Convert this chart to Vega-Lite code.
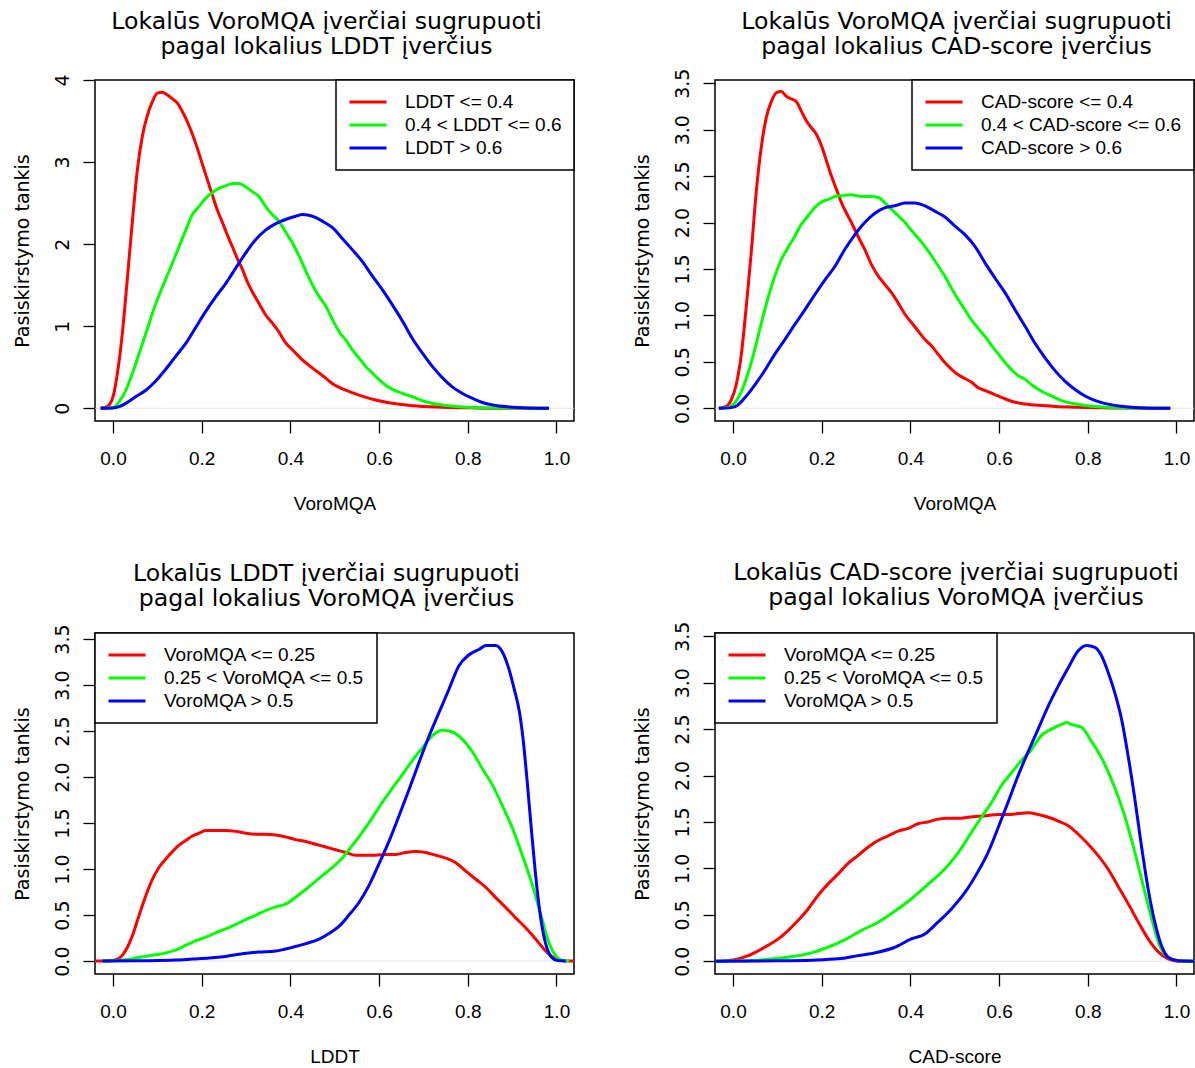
{
 "$schema": "https://vega.github.io/schema/vega-lite/v6.json",
 "background": "white",
 "padding": {"left": 12, "top": 8, "right": 3, "bottom": 3},
 "columns": 2,
 "spacing": {"row": 212, "column": 141},
 "bounds": "flush",
 "resolve": {"scale": {"x": "independent", "y": "independent", "color": "independent"}, "legend": {"color": "independent"}},
 "datasets": {
  "p1": [
   {"g":"LDDT <= 0.4","x":-0.028,"y":0},{"g":"LDDT <= 0.4","x":-0.013,"y":0.02},{"g":"LDDT <= 0.4","x":0,"y":0.14},{"g":"LDDT <= 0.4","x":0.01,"y":0.43},{"g":"LDDT <= 0.4","x":0.021,"y":0.91},{"g":"LDDT <= 0.4","x":0.032,"y":1.56},{"g":"LDDT <= 0.4","x":0.044,"y":2.3},{"g":"LDDT <= 0.4","x":0.055,"y":2.91},{"g":"LDDT <= 0.4","x":0.066,"y":3.31},{"g":"LDDT <= 0.4","x":0.077,"y":3.56},{"g":"LDDT <= 0.4","x":0.089,"y":3.74},{"g":"LDDT <= 0.4","x":0.1,"y":3.84},{"g":"LDDT <= 0.4","x":0.111,"y":3.85},{"g":"LDDT <= 0.4","x":0.122,"y":3.82},{"g":"LDDT <= 0.4","x":0.134,"y":3.77},{"g":"LDDT <= 0.4","x":0.145,"y":3.72},{"g":"LDDT <= 0.4","x":0.156,"y":3.62},{"g":"LDDT <= 0.4","x":0.167,"y":3.5},{"g":"LDDT <= 0.4","x":0.179,"y":3.34},{"g":"LDDT <= 0.4","x":0.19,"y":3.17},{"g":"LDDT <= 0.4","x":0.2,"y":3.0},{"g":"LDDT <= 0.4","x":0.213,"y":2.78},{"g":"LDDT <= 0.4","x":0.224,"y":2.6},{"g":"LDDT <= 0.4","x":0.235,"y":2.42},{"g":"LDDT <= 0.4","x":0.247,"y":2.26},{"g":"LDDT <= 0.4","x":0.258,"y":2.11},{"g":"LDDT <= 0.4","x":0.269,"y":1.97},{"g":"LDDT <= 0.4","x":0.28,"y":1.83},{"g":"LDDT <= 0.4","x":0.292,"y":1.69},{"g":"LDDT <= 0.4","x":0.303,"y":1.54},{"g":"LDDT <= 0.4","x":0.314,"y":1.42},{"g":"LDDT <= 0.4","x":0.329,"y":1.28},{"g":"LDDT <= 0.4","x":0.344,"y":1.14},{"g":"LDDT <= 0.4","x":0.359,"y":1.04},{"g":"LDDT <= 0.4","x":0.374,"y":0.93},{"g":"LDDT <= 0.4","x":0.389,"y":0.8},{"g":"LDDT <= 0.4","x":0.405,"y":0.71},{"g":"LDDT <= 0.4","x":0.427,"y":0.59},{"g":"LDDT <= 0.4","x":0.45,"y":0.49},{"g":"LDDT <= 0.4","x":0.472,"y":0.4},{"g":"LDDT <= 0.4","x":0.495,"y":0.3},{"g":"LDDT <= 0.4","x":0.525,"y":0.22},{"g":"LDDT <= 0.4","x":0.555,"y":0.16},{"g":"LDDT <= 0.4","x":0.592,"y":0.1},{"g":"LDDT <= 0.4","x":0.63,"y":0.06},{"g":"LDDT <= 0.4","x":0.675,"y":0.03},{"g":"LDDT <= 0.4","x":0.743,"y":0.012},{"g":"LDDT <= 0.4","x":0.818,"y":0.004},{"g":"LDDT <= 0.4","x":0.893,"y":0},{"g":"LDDT <= 0.4","x":0.983,"y":0},
   {"g":"0.4 < LDDT <= 0.6","x":-0.028,"y":0},{"g":"0.4 < LDDT <= 0.6","x":0,"y":0.01},{"g":"0.4 < LDDT <= 0.6","x":0.014,"y":0.08},{"g":"0.4 < LDDT <= 0.6","x":0.029,"y":0.22},{"g":"0.4 < LDDT <= 0.6","x":0.044,"y":0.43},{"g":"0.4 < LDDT <= 0.6","x":0.059,"y":0.67},{"g":"0.4 < LDDT <= 0.6","x":0.074,"y":0.91},{"g":"0.4 < LDDT <= 0.6","x":0.089,"y":1.16},{"g":"0.4 < LDDT <= 0.6","x":0.104,"y":1.38},{"g":"0.4 < LDDT <= 0.6","x":0.118,"y":1.56},{"g":"0.4 < LDDT <= 0.6","x":0.134,"y":1.77},{"g":"0.4 < LDDT <= 0.6","x":0.149,"y":1.97},{"g":"0.4 < LDDT <= 0.6","x":0.164,"y":2.17},{"g":"0.4 < LDDT <= 0.6","x":0.179,"y":2.36},{"g":"0.4 < LDDT <= 0.6","x":0.194,"y":2.46},{"g":"0.4 < LDDT <= 0.6","x":0.209,"y":2.56},{"g":"0.4 < LDDT <= 0.6","x":0.224,"y":2.63},{"g":"0.4 < LDDT <= 0.6","x":0.239,"y":2.68},{"g":"0.4 < LDDT <= 0.6","x":0.254,"y":2.71},{"g":"0.4 < LDDT <= 0.6","x":0.269,"y":2.74},{"g":"0.4 < LDDT <= 0.6","x":0.284,"y":2.74},{"g":"0.4 < LDDT <= 0.6","x":0.299,"y":2.7},{"g":"0.4 < LDDT <= 0.6","x":0.314,"y":2.64},{"g":"0.4 < LDDT <= 0.6","x":0.329,"y":2.58},{"g":"0.4 < LDDT <= 0.6","x":0.344,"y":2.46},{"g":"0.4 < LDDT <= 0.6","x":0.359,"y":2.36},{"g":"0.4 < LDDT <= 0.6","x":0.374,"y":2.28},{"g":"0.4 < LDDT <= 0.6","x":0.389,"y":2.15},{"g":"0.4 < LDDT <= 0.6","x":0.405,"y":2.01},{"g":"0.4 < LDDT <= 0.6","x":0.42,"y":1.85},{"g":"0.4 < LDDT <= 0.6","x":0.435,"y":1.67},{"g":"0.4 < LDDT <= 0.6","x":0.45,"y":1.5},{"g":"0.4 < LDDT <= 0.6","x":0.465,"y":1.36},{"g":"0.4 < LDDT <= 0.6","x":0.48,"y":1.24},{"g":"0.4 < LDDT <= 0.6","x":0.495,"y":1.08},{"g":"0.4 < LDDT <= 0.6","x":0.51,"y":0.93},{"g":"0.4 < LDDT <= 0.6","x":0.525,"y":0.83},{"g":"0.4 < LDDT <= 0.6","x":0.54,"y":0.71},{"g":"0.4 < LDDT <= 0.6","x":0.555,"y":0.61},{"g":"0.4 < LDDT <= 0.6","x":0.57,"y":0.51},{"g":"0.4 < LDDT <= 0.6","x":0.585,"y":0.43},{"g":"0.4 < LDDT <= 0.6","x":0.6,"y":0.35},{"g":"0.4 < LDDT <= 0.6","x":0.615,"y":0.28},{"g":"0.4 < LDDT <= 0.6","x":0.63,"y":0.23},{"g":"0.4 < LDDT <= 0.6","x":0.653,"y":0.18},{"g":"0.4 < LDDT <= 0.6","x":0.675,"y":0.14},{"g":"0.4 < LDDT <= 0.6","x":0.705,"y":0.08},{"g":"0.4 < LDDT <= 0.6","x":0.743,"y":0.04},{"g":"0.4 < LDDT <= 0.6","x":0.78,"y":0.02},{"g":"0.4 < LDDT <= 0.6","x":0.856,"y":0.004},{"g":"0.4 < LDDT <= 0.6","x":0.983,"y":0},
   {"g":"LDDT > 0.6","x":-0.028,"y":0},{"g":"LDDT > 0.6","x":0,"y":0.004},{"g":"LDDT > 0.6","x":0.014,"y":0.02},{"g":"LDDT > 0.6","x":0.029,"y":0.06},{"g":"LDDT > 0.6","x":0.051,"y":0.14},{"g":"LDDT > 0.6","x":0.074,"y":0.22},{"g":"LDDT > 0.6","x":0.096,"y":0.33},{"g":"LDDT > 0.6","x":0.118,"y":0.47},{"g":"LDDT > 0.6","x":0.141,"y":0.63},{"g":"LDDT > 0.6","x":0.164,"y":0.79},{"g":"LDDT > 0.6","x":0.186,"y":0.98},{"g":"LDDT > 0.6","x":0.209,"y":1.18},{"g":"LDDT > 0.6","x":0.232,"y":1.36},{"g":"LDDT > 0.6","x":0.254,"y":1.52},{"g":"LDDT > 0.6","x":0.277,"y":1.71},{"g":"LDDT > 0.6","x":0.299,"y":1.89},{"g":"LDDT > 0.6","x":0.321,"y":2.05},{"g":"LDDT > 0.6","x":0.344,"y":2.17},{"g":"LDDT > 0.6","x":0.367,"y":2.25},{"g":"LDDT > 0.6","x":0.389,"y":2.3},{"g":"LDDT > 0.6","x":0.412,"y":2.34},{"g":"LDDT > 0.6","x":0.427,"y":2.36},{"g":"LDDT > 0.6","x":0.45,"y":2.34},{"g":"LDDT > 0.6","x":0.472,"y":2.28},{"g":"LDDT > 0.6","x":0.495,"y":2.2},{"g":"LDDT > 0.6","x":0.517,"y":2.07},{"g":"LDDT > 0.6","x":0.54,"y":1.93},{"g":"LDDT > 0.6","x":0.562,"y":1.79},{"g":"LDDT > 0.6","x":0.585,"y":1.61},{"g":"LDDT > 0.6","x":0.608,"y":1.44},{"g":"LDDT > 0.6","x":0.63,"y":1.26},{"g":"LDDT > 0.6","x":0.653,"y":1.06},{"g":"LDDT > 0.6","x":0.675,"y":0.85},{"g":"LDDT > 0.6","x":0.698,"y":0.67},{"g":"LDDT > 0.6","x":0.72,"y":0.51},{"g":"LDDT > 0.6","x":0.743,"y":0.37},{"g":"LDDT > 0.6","x":0.765,"y":0.26},{"g":"LDDT > 0.6","x":0.788,"y":0.18},{"g":"LDDT > 0.6","x":0.811,"y":0.12},{"g":"LDDT > 0.6","x":0.833,"y":0.07},{"g":"LDDT > 0.6","x":0.856,"y":0.04},{"g":"LDDT > 0.6","x":0.893,"y":0.016},{"g":"LDDT > 0.6","x":0.932,"y":0.004},{"g":"LDDT > 0.6","x":0.983,"y":0}
  ],
  "p2": [
   {"g":"CAD-score <= 0.4","x":-0.032,"y":0},{"g":"CAD-score <= 0.4","x":-0.015,"y":0.02},{"g":"CAD-score <= 0.4","x":-0.004,"y":0.09},{"g":"CAD-score <= 0.4","x":0.008,"y":0.27},{"g":"CAD-score <= 0.4","x":0.019,"y":0.59},{"g":"CAD-score <= 0.4","x":0.03,"y":1.1},{"g":"CAD-score <= 0.4","x":0.041,"y":1.67},{"g":"CAD-score <= 0.4","x":0.053,"y":2.36},{"g":"CAD-score <= 0.4","x":0.064,"y":2.82},{"g":"CAD-score <= 0.4","x":0.075,"y":3.13},{"g":"CAD-score <= 0.4","x":0.087,"y":3.31},{"g":"CAD-score <= 0.4","x":0.098,"y":3.4},{"g":"CAD-score <= 0.4","x":0.109,"y":3.41},{"g":"CAD-score <= 0.4","x":0.12,"y":3.36},{"g":"CAD-score <= 0.4","x":0.132,"y":3.33},{"g":"CAD-score <= 0.4","x":0.143,"y":3.3},{"g":"CAD-score <= 0.4","x":0.154,"y":3.2},{"g":"CAD-score <= 0.4","x":0.166,"y":3.09},{"g":"CAD-score <= 0.4","x":0.177,"y":3.02},{"g":"CAD-score <= 0.4","x":0.188,"y":2.95},{"g":"CAD-score <= 0.4","x":0.2,"y":2.82},{"g":"CAD-score <= 0.4","x":0.211,"y":2.66},{"g":"CAD-score <= 0.4","x":0.222,"y":2.5},{"g":"CAD-score <= 0.4","x":0.233,"y":2.36},{"g":"CAD-score <= 0.4","x":0.245,"y":2.21},{"g":"CAD-score <= 0.4","x":0.256,"y":2.1},{"g":"CAD-score <= 0.4","x":0.267,"y":2.0},{"g":"CAD-score <= 0.4","x":0.282,"y":1.85},{"g":"CAD-score <= 0.4","x":0.297,"y":1.71},{"g":"CAD-score <= 0.4","x":0.312,"y":1.55},{"g":"CAD-score <= 0.4","x":0.328,"y":1.42},{"g":"CAD-score <= 0.4","x":0.343,"y":1.33},{"g":"CAD-score <= 0.4","x":0.358,"y":1.24},{"g":"CAD-score <= 0.4","x":0.373,"y":1.13},{"g":"CAD-score <= 0.4","x":0.388,"y":1.01},{"g":"CAD-score <= 0.4","x":0.403,"y":0.92},{"g":"CAD-score <= 0.4","x":0.418,"y":0.83},{"g":"CAD-score <= 0.4","x":0.433,"y":0.74},{"g":"CAD-score <= 0.4","x":0.448,"y":0.67},{"g":"CAD-score <= 0.4","x":0.463,"y":0.58},{"g":"CAD-score <= 0.4","x":0.478,"y":0.49},{"g":"CAD-score <= 0.4","x":0.493,"y":0.42},{"g":"CAD-score <= 0.4","x":0.508,"y":0.36},{"g":"CAD-score <= 0.4","x":0.523,"y":0.32},{"g":"CAD-score <= 0.4","x":0.538,"y":0.28},{"g":"CAD-score <= 0.4","x":0.553,"y":0.22},{"g":"CAD-score <= 0.4","x":0.569,"y":0.19},{"g":"CAD-score <= 0.4","x":0.584,"y":0.16},{"g":"CAD-score <= 0.4","x":0.599,"y":0.13},{"g":"CAD-score <= 0.4","x":0.614,"y":0.1},{"g":"CAD-score <= 0.4","x":0.636,"y":0.065},{"g":"CAD-score <= 0.4","x":0.659,"y":0.047},{"g":"CAD-score <= 0.4","x":0.689,"y":0.032},{"g":"CAD-score <= 0.4","x":0.727,"y":0.02},{"g":"CAD-score <= 0.4","x":0.779,"y":0.011},{"g":"CAD-score <= 0.4","x":0.855,"y":0.004},{"g":"CAD-score <= 0.4","x":0.986,"y":0},
   {"g":"0.4 < CAD-score <= 0.6","x":-0.032,"y":0},{"g":"0.4 < CAD-score <= 0.6","x":-0.011,"y":0.01},{"g":"0.4 < CAD-score <= 0.6","x":0.004,"y":0.06},{"g":"0.4 < CAD-score <= 0.6","x":0.019,"y":0.18},{"g":"0.4 < CAD-score <= 0.6","x":0.034,"y":0.38},{"g":"0.4 < CAD-score <= 0.6","x":0.049,"y":0.63},{"g":"0.4 < CAD-score <= 0.6","x":0.064,"y":0.92},{"g":"0.4 < CAD-score <= 0.6","x":0.079,"y":1.19},{"g":"0.4 < CAD-score <= 0.6","x":0.094,"y":1.42},{"g":"0.4 < CAD-score <= 0.6","x":0.109,"y":1.6},{"g":"0.4 < CAD-score <= 0.6","x":0.124,"y":1.73},{"g":"0.4 < CAD-score <= 0.6","x":0.139,"y":1.85},{"g":"0.4 < CAD-score <= 0.6","x":0.154,"y":1.98},{"g":"0.4 < CAD-score <= 0.6","x":0.169,"y":2.07},{"g":"0.4 < CAD-score <= 0.6","x":0.184,"y":2.16},{"g":"0.4 < CAD-score <= 0.6","x":0.199,"y":2.22},{"g":"0.4 < CAD-score <= 0.6","x":0.215,"y":2.25},{"g":"0.4 < CAD-score <= 0.6","x":0.23,"y":2.28},{"g":"0.4 < CAD-score <= 0.6","x":0.245,"y":2.29},{"g":"0.4 < CAD-score <= 0.6","x":0.267,"y":2.3},{"g":"0.4 < CAD-score <= 0.6","x":0.29,"y":2.28},{"g":"0.4 < CAD-score <= 0.6","x":0.312,"y":2.28},{"g":"0.4 < CAD-score <= 0.6","x":0.328,"y":2.27},{"g":"0.4 < CAD-score <= 0.6","x":0.343,"y":2.21},{"g":"0.4 < CAD-score <= 0.6","x":0.358,"y":2.14},{"g":"0.4 < CAD-score <= 0.6","x":0.373,"y":2.07},{"g":"0.4 < CAD-score <= 0.6","x":0.388,"y":2.0},{"g":"0.4 < CAD-score <= 0.6","x":0.403,"y":1.91},{"g":"0.4 < CAD-score <= 0.6","x":0.418,"y":1.83},{"g":"0.4 < CAD-score <= 0.6","x":0.433,"y":1.74},{"g":"0.4 < CAD-score <= 0.6","x":0.448,"y":1.64},{"g":"0.4 < CAD-score <= 0.6","x":0.463,"y":1.53},{"g":"0.4 < CAD-score <= 0.6","x":0.478,"y":1.42},{"g":"0.4 < CAD-score <= 0.6","x":0.493,"y":1.29},{"g":"0.4 < CAD-score <= 0.6","x":0.508,"y":1.17},{"g":"0.4 < CAD-score <= 0.6","x":0.523,"y":1.06},{"g":"0.4 < CAD-score <= 0.6","x":0.538,"y":0.95},{"g":"0.4 < CAD-score <= 0.6","x":0.553,"y":0.86},{"g":"0.4 < CAD-score <= 0.6","x":0.569,"y":0.77},{"g":"0.4 < CAD-score <= 0.6","x":0.584,"y":0.67},{"g":"0.4 < CAD-score <= 0.6","x":0.599,"y":0.58},{"g":"0.4 < CAD-score <= 0.6","x":0.614,"y":0.49},{"g":"0.4 < CAD-score <= 0.6","x":0.629,"y":0.41},{"g":"0.4 < CAD-score <= 0.6","x":0.644,"y":0.35},{"g":"0.4 < CAD-score <= 0.6","x":0.659,"y":0.31},{"g":"0.4 < CAD-score <= 0.6","x":0.674,"y":0.25},{"g":"0.4 < CAD-score <= 0.6","x":0.697,"y":0.18},{"g":"0.4 < CAD-score <= 0.6","x":0.719,"y":0.13},{"g":"0.4 < CAD-score <= 0.6","x":0.742,"y":0.08},{"g":"0.4 < CAD-score <= 0.6","x":0.764,"y":0.054},{"g":"0.4 < CAD-score <= 0.6","x":0.794,"y":0.029},{"g":"0.4 < CAD-score <= 0.6","x":0.832,"y":0.014},{"g":"0.4 < CAD-score <= 0.6","x":0.892,"y":0.004},{"g":"0.4 < CAD-score <= 0.6","x":0.986,"y":0},
   {"g":"CAD-score > 0.6","x":-0.032,"y":0},{"g":"CAD-score > 0.6","x":-0.004,"y":0.007},{"g":"CAD-score > 0.6","x":0.011,"y":0.036},{"g":"CAD-score > 0.6","x":0.026,"y":0.11},{"g":"CAD-score > 0.6","x":0.049,"y":0.25},{"g":"CAD-score > 0.6","x":0.072,"y":0.41},{"g":"CAD-score > 0.6","x":0.094,"y":0.58},{"g":"CAD-score > 0.6","x":0.117,"y":0.74},{"g":"CAD-score > 0.6","x":0.139,"y":0.9},{"g":"CAD-score > 0.6","x":0.162,"y":1.06},{"g":"CAD-score > 0.6","x":0.184,"y":1.22},{"g":"CAD-score > 0.6","x":0.207,"y":1.38},{"g":"CAD-score > 0.6","x":0.23,"y":1.53},{"g":"CAD-score > 0.6","x":0.252,"y":1.71},{"g":"CAD-score > 0.6","x":0.275,"y":1.87},{"g":"CAD-score > 0.6","x":0.297,"y":2.0},{"g":"CAD-score > 0.6","x":0.32,"y":2.1},{"g":"CAD-score > 0.6","x":0.343,"y":2.16},{"g":"CAD-score > 0.6","x":0.365,"y":2.18},{"g":"CAD-score > 0.6","x":0.388,"y":2.21},{"g":"CAD-score > 0.6","x":0.41,"y":2.21},{"g":"CAD-score > 0.6","x":0.433,"y":2.18},{"g":"CAD-score > 0.6","x":0.456,"y":2.12},{"g":"CAD-score > 0.6","x":0.478,"y":2.06},{"g":"CAD-score > 0.6","x":0.501,"y":1.96},{"g":"CAD-score > 0.6","x":0.523,"y":1.87},{"g":"CAD-score > 0.6","x":0.546,"y":1.74},{"g":"CAD-score > 0.6","x":0.569,"y":1.56},{"g":"CAD-score > 0.6","x":0.591,"y":1.4},{"g":"CAD-score > 0.6","x":0.614,"y":1.24},{"g":"CAD-score > 0.6","x":0.636,"y":1.06},{"g":"CAD-score > 0.6","x":0.659,"y":0.88},{"g":"CAD-score > 0.6","x":0.681,"y":0.7},{"g":"CAD-score > 0.6","x":0.704,"y":0.54},{"g":"CAD-score > 0.6","x":0.727,"y":0.4},{"g":"CAD-score > 0.6","x":0.749,"y":0.29},{"g":"CAD-score > 0.6","x":0.772,"y":0.2},{"g":"CAD-score > 0.6","x":0.795,"y":0.13},{"g":"CAD-score > 0.6","x":0.817,"y":0.083},{"g":"CAD-score > 0.6","x":0.84,"y":0.05},{"g":"CAD-score > 0.6","x":0.87,"y":0.025},{"g":"CAD-score > 0.6","x":0.915,"y":0.007},{"g":"CAD-score > 0.6","x":0.986,"y":0}
  ],
  "p3": [
   {"g":"VoroMQA <= 0.25","x":-0.04,"y":0},{"g":"VoroMQA <= 0.25","x":0,"y":0.007},{"g":"VoroMQA <= 0.25","x":0.014,"y":0.03},{"g":"VoroMQA <= 0.25","x":0.029,"y":0.12},{"g":"VoroMQA <= 0.25","x":0.044,"y":0.28},{"g":"VoroMQA <= 0.25","x":0.059,"y":0.5},{"g":"VoroMQA <= 0.25","x":0.074,"y":0.71},{"g":"VoroMQA <= 0.25","x":0.089,"y":0.89},{"g":"VoroMQA <= 0.25","x":0.104,"y":1.02},{"g":"VoroMQA <= 0.25","x":0.119,"y":1.11},{"g":"VoroMQA <= 0.25","x":0.134,"y":1.19},{"g":"VoroMQA <= 0.25","x":0.149,"y":1.26},{"g":"VoroMQA <= 0.25","x":0.164,"y":1.31},{"g":"VoroMQA <= 0.25","x":0.179,"y":1.36},{"g":"VoroMQA <= 0.25","x":0.194,"y":1.39},{"g":"VoroMQA <= 0.25","x":0.209,"y":1.42},{"g":"VoroMQA <= 0.25","x":0.232,"y":1.42},{"g":"VoroMQA <= 0.25","x":0.254,"y":1.42},{"g":"VoroMQA <= 0.25","x":0.277,"y":1.41},{"g":"VoroMQA <= 0.25","x":0.299,"y":1.39},{"g":"VoroMQA <= 0.25","x":0.322,"y":1.38},{"g":"VoroMQA <= 0.25","x":0.344,"y":1.38},{"g":"VoroMQA <= 0.25","x":0.367,"y":1.37},{"g":"VoroMQA <= 0.25","x":0.389,"y":1.35},{"g":"VoroMQA <= 0.25","x":0.412,"y":1.32},{"g":"VoroMQA <= 0.25","x":0.435,"y":1.3},{"g":"VoroMQA <= 0.25","x":0.457,"y":1.27},{"g":"VoroMQA <= 0.25","x":0.48,"y":1.24},{"g":"VoroMQA <= 0.25","x":0.502,"y":1.21},{"g":"VoroMQA <= 0.25","x":0.525,"y":1.18},{"g":"VoroMQA <= 0.25","x":0.547,"y":1.15},{"g":"VoroMQA <= 0.25","x":0.57,"y":1.15},{"g":"VoroMQA <= 0.25","x":0.592,"y":1.15},{"g":"VoroMQA <= 0.25","x":0.615,"y":1.16},{"g":"VoroMQA <= 0.25","x":0.638,"y":1.16},{"g":"VoroMQA <= 0.25","x":0.66,"y":1.18},{"g":"VoroMQA <= 0.25","x":0.683,"y":1.19},{"g":"VoroMQA <= 0.25","x":0.705,"y":1.18},{"g":"VoroMQA <= 0.25","x":0.728,"y":1.15},{"g":"VoroMQA <= 0.25","x":0.75,"y":1.12},{"g":"VoroMQA <= 0.25","x":0.773,"y":1.07},{"g":"VoroMQA <= 0.25","x":0.795,"y":0.98},{"g":"VoroMQA <= 0.25","x":0.818,"y":0.89},{"g":"VoroMQA <= 0.25","x":0.841,"y":0.8},{"g":"VoroMQA <= 0.25","x":0.863,"y":0.69},{"g":"VoroMQA <= 0.25","x":0.886,"y":0.58},{"g":"VoroMQA <= 0.25","x":0.908,"y":0.47},{"g":"VoroMQA <= 0.25","x":0.931,"y":0.36},{"g":"VoroMQA <= 0.25","x":0.953,"y":0.24},{"g":"VoroMQA <= 0.25","x":0.972,"y":0.13},{"g":"VoroMQA <= 0.25","x":0.987,"y":0.06},{"g":"VoroMQA <= 0.25","x":1.002,"y":0.018},{"g":"VoroMQA <= 0.25","x":1.021,"y":0},{"g":"VoroMQA <= 0.25","x":1.039,"y":0},
   {"g":"0.25 < VoroMQA <= 0.5","x":-0.024,"y":0},{"g":"0.25 < VoroMQA <= 0.5","x":0.006,"y":0.004},{"g":"0.25 < VoroMQA <= 0.5","x":0.029,"y":0.014},{"g":"0.25 < VoroMQA <= 0.5","x":0.051,"y":0.033},{"g":"0.25 < VoroMQA <= 0.5","x":0.074,"y":0.054},{"g":"0.25 < VoroMQA <= 0.5","x":0.096,"y":0.069},{"g":"0.25 < VoroMQA <= 0.5","x":0.119,"y":0.09},{"g":"0.25 < VoroMQA <= 0.5","x":0.141,"y":0.12},{"g":"0.25 < VoroMQA <= 0.5","x":0.164,"y":0.17},{"g":"0.25 < VoroMQA <= 0.5","x":0.186,"y":0.22},{"g":"0.25 < VoroMQA <= 0.5","x":0.209,"y":0.26},{"g":"0.25 < VoroMQA <= 0.5","x":0.232,"y":0.31},{"g":"0.25 < VoroMQA <= 0.5","x":0.254,"y":0.35},{"g":"0.25 < VoroMQA <= 0.5","x":0.277,"y":0.4},{"g":"0.25 < VoroMQA <= 0.5","x":0.299,"y":0.45},{"g":"0.25 < VoroMQA <= 0.5","x":0.322,"y":0.5},{"g":"0.25 < VoroMQA <= 0.5","x":0.344,"y":0.55},{"g":"0.25 < VoroMQA <= 0.5","x":0.367,"y":0.59},{"g":"0.25 < VoroMQA <= 0.5","x":0.389,"y":0.62},{"g":"0.25 < VoroMQA <= 0.5","x":0.405,"y":0.67},{"g":"0.25 < VoroMQA <= 0.5","x":0.427,"y":0.75},{"g":"0.25 < VoroMQA <= 0.5","x":0.45,"y":0.84},{"g":"0.25 < VoroMQA <= 0.5","x":0.472,"y":0.93},{"g":"0.25 < VoroMQA <= 0.5","x":0.495,"y":1.02},{"g":"0.25 < VoroMQA <= 0.5","x":0.517,"y":1.12},{"g":"0.25 < VoroMQA <= 0.5","x":0.54,"y":1.26},{"g":"0.25 < VoroMQA <= 0.5","x":0.562,"y":1.4},{"g":"0.25 < VoroMQA <= 0.5","x":0.585,"y":1.56},{"g":"0.25 < VoroMQA <= 0.5","x":0.608,"y":1.73},{"g":"0.25 < VoroMQA <= 0.5","x":0.63,"y":1.88},{"g":"0.25 < VoroMQA <= 0.5","x":0.653,"y":2.03},{"g":"0.25 < VoroMQA <= 0.5","x":0.675,"y":2.18},{"g":"0.25 < VoroMQA <= 0.5","x":0.698,"y":2.32},{"g":"0.25 < VoroMQA <= 0.5","x":0.72,"y":2.45},{"g":"0.25 < VoroMQA <= 0.5","x":0.743,"y":2.51},{"g":"0.25 < VoroMQA <= 0.5","x":0.765,"y":2.49},{"g":"0.25 < VoroMQA <= 0.5","x":0.788,"y":2.41},{"g":"0.25 < VoroMQA <= 0.5","x":0.811,"y":2.27},{"g":"0.25 < VoroMQA <= 0.5","x":0.833,"y":2.09},{"g":"0.25 < VoroMQA <= 0.5","x":0.856,"y":1.91},{"g":"0.25 < VoroMQA <= 0.5","x":0.878,"y":1.69},{"g":"0.25 < VoroMQA <= 0.5","x":0.901,"y":1.44},{"g":"0.25 < VoroMQA <= 0.5","x":0.923,"y":1.15},{"g":"0.25 < VoroMQA <= 0.5","x":0.946,"y":0.82},{"g":"0.25 < VoroMQA <= 0.5","x":0.965,"y":0.5},{"g":"0.25 < VoroMQA <= 0.5","x":0.98,"y":0.24},{"g":"0.25 < VoroMQA <= 0.5","x":0.995,"y":0.08},{"g":"0.25 < VoroMQA <= 0.5","x":1.01,"y":0.014},{"g":"0.25 < VoroMQA <= 0.5","x":1.029,"y":0},
   {"g":"VoroMQA > 0.5","x":-0.024,"y":0},{"g":"VoroMQA > 0.5","x":0.066,"y":0.004},{"g":"VoroMQA > 0.5","x":0.141,"y":0.011},{"g":"VoroMQA > 0.5","x":0.179,"y":0.022},{"g":"VoroMQA > 0.5","x":0.217,"y":0.033},{"g":"VoroMQA > 0.5","x":0.254,"y":0.051},{"g":"VoroMQA > 0.5","x":0.292,"y":0.08},{"g":"VoroMQA > 0.5","x":0.329,"y":0.098},{"g":"VoroMQA > 0.5","x":0.367,"y":0.11},{"g":"VoroMQA > 0.5","x":0.405,"y":0.15},{"g":"VoroMQA > 0.5","x":0.435,"y":0.19},{"g":"VoroMQA > 0.5","x":0.465,"y":0.24},{"g":"VoroMQA > 0.5","x":0.487,"y":0.3},{"g":"VoroMQA > 0.5","x":0.51,"y":0.38},{"g":"VoroMQA > 0.5","x":0.532,"y":0.5},{"g":"VoroMQA > 0.5","x":0.555,"y":0.64},{"g":"VoroMQA > 0.5","x":0.577,"y":0.82},{"g":"VoroMQA > 0.5","x":0.6,"y":1.06},{"g":"VoroMQA > 0.5","x":0.623,"y":1.31},{"g":"VoroMQA > 0.5","x":0.645,"y":1.58},{"g":"VoroMQA > 0.5","x":0.668,"y":1.87},{"g":"VoroMQA > 0.5","x":0.69,"y":2.16},{"g":"VoroMQA > 0.5","x":0.713,"y":2.45},{"g":"VoroMQA > 0.5","x":0.735,"y":2.7},{"g":"VoroMQA > 0.5","x":0.758,"y":2.96},{"g":"VoroMQA > 0.5","x":0.78,"y":3.21},{"g":"VoroMQA > 0.5","x":0.803,"y":3.33},{"g":"VoroMQA > 0.5","x":0.826,"y":3.39},{"g":"VoroMQA > 0.5","x":0.841,"y":3.43},{"g":"VoroMQA > 0.5","x":0.863,"y":3.43},{"g":"VoroMQA > 0.5","x":0.878,"y":3.36},{"g":"VoroMQA > 0.5","x":0.893,"y":3.17},{"g":"VoroMQA > 0.5","x":0.905,"y":2.95},{"g":"VoroMQA > 0.5","x":0.916,"y":2.72},{"g":"VoroMQA > 0.5","x":0.925,"y":2.4},{"g":"VoroMQA > 0.5","x":0.934,"y":1.95},{"g":"VoroMQA > 0.5","x":0.943,"y":1.45},{"g":"VoroMQA > 0.5","x":0.952,"y":0.98},{"g":"VoroMQA > 0.5","x":0.962,"y":0.55},{"g":"VoroMQA > 0.5","x":0.973,"y":0.24},{"g":"VoroMQA > 0.5","x":0.985,"y":0.07},{"g":"VoroMQA > 0.5","x":1.0,"y":0.01},{"g":"VoroMQA > 0.5","x":1.021,"y":0}
  ],
  "p4": [
   {"g":"VoroMQA <= 0.25","x":-0.04,"y":0},{"g":"VoroMQA <= 0.25","x":-0.011,"y":0.007},{"g":"VoroMQA <= 0.25","x":0.011,"y":0.025},{"g":"VoroMQA <= 0.25","x":0.034,"y":0.06},{"g":"VoroMQA <= 0.25","x":0.056,"y":0.11},{"g":"VoroMQA <= 0.25","x":0.079,"y":0.17},{"g":"VoroMQA <= 0.25","x":0.102,"y":0.24},{"g":"VoroMQA <= 0.25","x":0.124,"y":0.33},{"g":"VoroMQA <= 0.25","x":0.147,"y":0.44},{"g":"VoroMQA <= 0.25","x":0.169,"y":0.56},{"g":"VoroMQA <= 0.25","x":0.192,"y":0.71},{"g":"VoroMQA <= 0.25","x":0.214,"y":0.83},{"g":"VoroMQA <= 0.25","x":0.237,"y":0.94},{"g":"VoroMQA <= 0.25","x":0.259,"y":1.05},{"g":"VoroMQA <= 0.25","x":0.282,"y":1.14},{"g":"VoroMQA <= 0.25","x":0.305,"y":1.23},{"g":"VoroMQA <= 0.25","x":0.327,"y":1.3},{"g":"VoroMQA <= 0.25","x":0.35,"y":1.35},{"g":"VoroMQA <= 0.25","x":0.372,"y":1.4},{"g":"VoroMQA <= 0.25","x":0.395,"y":1.43},{"g":"VoroMQA <= 0.25","x":0.417,"y":1.48},{"g":"VoroMQA <= 0.25","x":0.44,"y":1.5},{"g":"VoroMQA <= 0.25","x":0.462,"y":1.53},{"g":"VoroMQA <= 0.25","x":0.485,"y":1.54},{"g":"VoroMQA <= 0.25","x":0.508,"y":1.54},{"g":"VoroMQA <= 0.25","x":0.53,"y":1.55},{"g":"VoroMQA <= 0.25","x":0.553,"y":1.56},{"g":"VoroMQA <= 0.25","x":0.575,"y":1.57},{"g":"VoroMQA <= 0.25","x":0.598,"y":1.58},{"g":"VoroMQA <= 0.25","x":0.62,"y":1.58},{"g":"VoroMQA <= 0.25","x":0.643,"y":1.59},{"g":"VoroMQA <= 0.25","x":0.665,"y":1.6},{"g":"VoroMQA <= 0.25","x":0.688,"y":1.58},{"g":"VoroMQA <= 0.25","x":0.711,"y":1.55},{"g":"VoroMQA <= 0.25","x":0.733,"y":1.51},{"g":"VoroMQA <= 0.25","x":0.756,"y":1.46},{"g":"VoroMQA <= 0.25","x":0.778,"y":1.37},{"g":"VoroMQA <= 0.25","x":0.801,"y":1.26},{"g":"VoroMQA <= 0.25","x":0.823,"y":1.14},{"g":"VoroMQA <= 0.25","x":0.846,"y":0.99},{"g":"VoroMQA <= 0.25","x":0.868,"y":0.81},{"g":"VoroMQA <= 0.25","x":0.891,"y":0.62},{"g":"VoroMQA <= 0.25","x":0.914,"y":0.42},{"g":"VoroMQA <= 0.25","x":0.936,"y":0.24},{"g":"VoroMQA <= 0.25","x":0.959,"y":0.1},{"g":"VoroMQA <= 0.25","x":0.981,"y":0.025},{"g":"VoroMQA <= 0.25","x":1.004,"y":0},{"g":"VoroMQA <= 0.25","x":1.039,"y":0},
   {"g":"0.25 < VoroMQA <= 0.5","x":-0.04,"y":0},{"g":"0.25 < VoroMQA <= 0.5","x":0.026,"y":0.004},{"g":"0.25 < VoroMQA <= 0.5","x":0.064,"y":0.014},{"g":"0.25 < VoroMQA <= 0.5","x":0.102,"y":0.032},{"g":"0.25 < VoroMQA <= 0.5","x":0.139,"y":0.054},{"g":"0.25 < VoroMQA <= 0.5","x":0.177,"y":0.09},{"g":"0.25 < VoroMQA <= 0.5","x":0.214,"y":0.15},{"g":"0.25 < VoroMQA <= 0.5","x":0.252,"y":0.23},{"g":"0.25 < VoroMQA <= 0.5","x":0.289,"y":0.33},{"g":"0.25 < VoroMQA <= 0.5","x":0.327,"y":0.42},{"g":"0.25 < VoroMQA <= 0.5","x":0.365,"y":0.54},{"g":"0.25 < VoroMQA <= 0.5","x":0.402,"y":0.67},{"g":"0.25 < VoroMQA <= 0.5","x":0.44,"y":0.83},{"g":"0.25 < VoroMQA <= 0.5","x":0.477,"y":0.99},{"g":"0.25 < VoroMQA <= 0.5","x":0.508,"y":1.17},{"g":"0.25 < VoroMQA <= 0.5","x":0.538,"y":1.39},{"g":"0.25 < VoroMQA <= 0.5","x":0.56,"y":1.55},{"g":"0.25 < VoroMQA <= 0.5","x":0.583,"y":1.71},{"g":"0.25 < VoroMQA <= 0.5","x":0.605,"y":1.89},{"g":"0.25 < VoroMQA <= 0.5","x":0.628,"y":2.03},{"g":"0.25 < VoroMQA <= 0.5","x":0.65,"y":2.16},{"g":"0.25 < VoroMQA <= 0.5","x":0.673,"y":2.28},{"g":"0.25 < VoroMQA <= 0.5","x":0.695,"y":2.43},{"g":"0.25 < VoroMQA <= 0.5","x":0.718,"y":2.5},{"g":"0.25 < VoroMQA <= 0.5","x":0.741,"y":2.55},{"g":"0.25 < VoroMQA <= 0.5","x":0.752,"y":2.57},{"g":"0.25 < VoroMQA <= 0.5","x":0.763,"y":2.55},{"g":"0.25 < VoroMQA <= 0.5","x":0.786,"y":2.52},{"g":"0.25 < VoroMQA <= 0.5","x":0.808,"y":2.37},{"g":"0.25 < VoroMQA <= 0.5","x":0.831,"y":2.19},{"g":"0.25 < VoroMQA <= 0.5","x":0.853,"y":1.96},{"g":"0.25 < VoroMQA <= 0.5","x":0.876,"y":1.67},{"g":"0.25 < VoroMQA <= 0.5","x":0.898,"y":1.32},{"g":"0.25 < VoroMQA <= 0.5","x":0.921,"y":0.89},{"g":"0.25 < VoroMQA <= 0.5","x":0.944,"y":0.46},{"g":"0.25 < VoroMQA <= 0.5","x":0.962,"y":0.17},{"g":"0.25 < VoroMQA <= 0.5","x":0.981,"y":0.043},{"g":"0.25 < VoroMQA <= 0.5","x":1.004,"y":0.004},{"g":"0.25 < VoroMQA <= 0.5","x":1.039,"y":0},
   {"g":"VoroMQA > 0.5","x":-0.04,"y":0},{"g":"VoroMQA > 0.5","x":0.102,"y":0.004},{"g":"VoroMQA > 0.5","x":0.177,"y":0.011},{"g":"VoroMQA > 0.5","x":0.237,"y":0.025},{"g":"VoroMQA > 0.5","x":0.282,"y":0.06},{"g":"VoroMQA > 0.5","x":0.327,"y":0.097},{"g":"VoroMQA > 0.5","x":0.365,"y":0.15},{"g":"VoroMQA > 0.5","x":0.402,"y":0.24},{"g":"VoroMQA > 0.5","x":0.432,"y":0.29},{"g":"VoroMQA > 0.5","x":0.462,"y":0.42},{"g":"VoroMQA > 0.5","x":0.492,"y":0.56},{"g":"VoroMQA > 0.5","x":0.523,"y":0.74},{"g":"VoroMQA > 0.5","x":0.553,"y":0.97},{"g":"VoroMQA > 0.5","x":0.575,"y":1.17},{"g":"VoroMQA > 0.5","x":0.598,"y":1.44},{"g":"VoroMQA > 0.5","x":0.62,"y":1.71},{"g":"VoroMQA > 0.5","x":0.643,"y":2.0},{"g":"VoroMQA > 0.5","x":0.665,"y":2.25},{"g":"VoroMQA > 0.5","x":0.688,"y":2.5},{"g":"VoroMQA > 0.5","x":0.711,"y":2.75},{"g":"VoroMQA > 0.5","x":0.733,"y":2.96},{"g":"VoroMQA > 0.5","x":0.756,"y":3.16},{"g":"VoroMQA > 0.5","x":0.778,"y":3.34},{"g":"VoroMQA > 0.5","x":0.797,"y":3.4},{"g":"VoroMQA > 0.5","x":0.816,"y":3.38},{"g":"VoroMQA > 0.5","x":0.831,"y":3.29},{"g":"VoroMQA > 0.5","x":0.846,"y":3.11},{"g":"VoroMQA > 0.5","x":0.861,"y":2.89},{"g":"VoroMQA > 0.5","x":0.876,"y":2.61},{"g":"VoroMQA > 0.5","x":0.891,"y":2.21},{"g":"VoroMQA > 0.5","x":0.906,"y":1.75},{"g":"VoroMQA > 0.5","x":0.921,"y":1.24},{"g":"VoroMQA > 0.5","x":0.936,"y":0.78},{"g":"VoroMQA > 0.5","x":0.951,"y":0.42},{"g":"VoroMQA > 0.5","x":0.966,"y":0.17},{"g":"VoroMQA > 0.5","x":0.981,"y":0.043},{"g":"VoroMQA > 0.5","x":1.004,"y":0.004},{"g":"VoroMQA > 0.5","x":1.039,"y":0}
  ]
 },
 "concat": [
  {
   "title": {"text": ["Lokalūs VoroMQA įverčiai sugrupuoti", "pagal lokalius LDDT įverčius"], "dx": -8, "offset": 15},
   "width": 479, "height": 341,
   "layer": [
    {"data": {"values": [{"y": 0}]}, "mark": {"type": "rule", "color": "#e3e3e3", "strokeWidth": 1},
     "encoding": {"y": {"field": "y", "type": "quantitative", "title": "Pasiskirstymo tankis", "scale": {"domain": [-0.155, 4.0], "nice": false, "zero": false}}}},
    {"data": {"name": "p1"}, "mark": {"type": "line", "strokeWidth": 3, "interpolate": "monotone", "clip": true},
     "encoding": {
      "x": {"field": "x", "type": "quantitative", "title": "VoroMQA", "scale": {"domain": [-0.0406, 1.0395], "nice": false, "zero": false}, "axis": {"values": [0, 0.2, 0.4, 0.6, 0.8, 1], "format": ".1f"}},
      "y": {"field": "y", "type": "quantitative", "title": "Pasiskirstymo tankis", "scale": {"domain": [-0.155, 4.0], "nice": false, "zero": false}, "axis": {"values": [0, 1, 2, 3, 4], "format": "d"}},
      "color": {"field": "g", "type": "nominal", "scale": {"domain": ["LDDT <= 0.4", "0.4 < LDDT <= 0.6", "LDDT > 0.6"], "range": ["#ff0000", "#00ff00", "#0000ff"]}, "legend": {"title": null, "orient": "top-right", "offset": 0}}
     }}
   ]
  },
  {
   "title": {"text": ["Lokalūs VoroMQA įverčiai sugrupuoti", "pagal lokalius CAD-score įverčius"], "dx": 2, "offset": 10},
   "width": 479, "height": 341,
   "layer": [
    {"data": {"values": [{"y": 0}]}, "mark": {"type": "rule", "color": "#e3e3e3", "strokeWidth": 1},
     "encoding": {"y": {"field": "y", "type": "quantitative", "title": "Pasiskirstymo tankis", "scale": {"domain": [-0.137, 3.535], "nice": false, "zero": false}}}},
    {"data": {"name": "p2"}, "mark": {"type": "line", "strokeWidth": 3, "interpolate": "monotone", "clip": true},
     "encoding": {
      "x": {"field": "x", "type": "quantitative", "title": "VoroMQA", "scale": {"domain": [-0.0406, 1.0395], "nice": false, "zero": false}, "axis": {"values": [0, 0.2, 0.4, 0.6, 0.8, 1], "format": ".1f"}},
      "y": {"field": "y", "type": "quantitative", "title": "Pasiskirstymo tankis", "scale": {"domain": [-0.137, 3.535], "nice": false, "zero": false}, "axis": {"values": [0, 0.5, 1, 1.5, 2, 2.5, 3, 3.5], "format": ".1f"}},
      "color": {"field": "g", "type": "nominal", "scale": {"domain": ["CAD-score <= 0.4", "0.4 < CAD-score <= 0.6", "CAD-score > 0.6"], "range": ["#ff0000", "#00ff00", "#0000ff"]}, "legend": {"title": null, "orient": "top-right", "offset": 0}}
     }}
   ]
  },
  {
   "title": {"text": ["Lokalūs LDDT įverčiai sugrupuoti", "pagal lokalius VoroMQA įverčius"], "dx": -8, "offset": 13},
   "width": 479, "height": 341,
   "layer": [
    {"data": {"values": [{"y": 0}]}, "mark": {"type": "rule", "color": "#e3e3e3", "strokeWidth": 1},
     "encoding": {"y": {"field": "y", "type": "quantitative", "title": "Pasiskirstymo tankis", "scale": {"domain": [-0.14, 3.566], "nice": false, "zero": false}}}},
    {"data": {"name": "p3"}, "mark": {"type": "line", "strokeWidth": 3, "interpolate": "monotone", "clip": true},
     "encoding": {
      "x": {"field": "x", "type": "quantitative", "title": "LDDT", "scale": {"domain": [-0.0406, 1.0395], "nice": false, "zero": false}, "axis": {"values": [0, 0.2, 0.4, 0.6, 0.8, 1], "format": ".1f"}},
      "y": {"field": "y", "type": "quantitative", "title": "Pasiskirstymo tankis", "scale": {"domain": [-0.14, 3.566], "nice": false, "zero": false}, "axis": {"values": [0, 0.5, 1, 1.5, 2, 2.5, 3, 3.5], "format": ".1f"}},
      "color": {"field": "g", "type": "nominal", "scale": {"domain": ["VoroMQA <= 0.25", "0.25 < VoroMQA <= 0.5", "VoroMQA > 0.5"], "range": ["#ff0000", "#00ff00", "#0000ff"]}, "legend": {"title": null, "orient": "top-left", "offset": 0}}
     }}
   ]
  },
  {
   "title": {"text": ["Lokalūs CAD-score įverčiai sugrupuoti", "pagal lokalius VoroMQA įverčius"], "dx": 1.5, "offset": 11.5},
   "width": 479, "height": 341,
   "layer": [
    {"data": {"values": [{"y": 0}]}, "mark": {"type": "rule", "color": "#e3e3e3", "strokeWidth": 1},
     "encoding": {"y": {"field": "y", "type": "quantitative", "title": "Pasiskirstymo tankis", "scale": {"domain": [-0.138, 3.535], "nice": false, "zero": false}}}},
    {"data": {"name": "p4"}, "mark": {"type": "line", "strokeWidth": 3, "interpolate": "monotone", "clip": true},
     "encoding": {
      "x": {"field": "x", "type": "quantitative", "title": "CAD-score", "scale": {"domain": [-0.0406, 1.0395], "nice": false, "zero": false}, "axis": {"values": [0, 0.2, 0.4, 0.6, 0.8, 1], "format": ".1f"}},
      "y": {"field": "y", "type": "quantitative", "title": "Pasiskirstymo tankis", "scale": {"domain": [-0.138, 3.535], "nice": false, "zero": false}, "axis": {"values": [0, 0.5, 1, 1.5, 2, 2.5, 3, 3.5], "format": ".1f"}},
      "color": {"field": "g", "type": "nominal", "scale": {"domain": ["VoroMQA <= 0.25", "0.25 < VoroMQA <= 0.5", "VoroMQA > 0.5"], "range": ["#ff0000", "#00ff00", "#0000ff"]}, "legend": {"title": null, "orient": "top-left", "offset": 0}}
     }}
   ]
  }
 ],
 "config": {
  "view": {"stroke": "#000000", "strokeWidth": 1.5},
  "title": {"font": "DejaVu Sans", "fontSize": 23.6, "fontWeight": "normal", "color": "#000000", "lineHeight": 25, "anchor": "middle", "frame": "group"},
  "axis": {"domain": false, "grid": false, "ticks": true, "tickColor": "#000000", "tickWidth": 1.3, "tickSize": 12, "labelColor": "#000000", "titleColor": "#000000", "labelFontSize": 19, "titleFontSize": 19, "titleFontWeight": "normal", "labelFlush": false, "labelOverlap": false},
  "axisX": {"labelFont": "Liberation Sans", "titleFont": "Liberation Sans", "labelPadding": 16.5, "labelBaseline": "top", "labelAngle": 0, "titleBaseline": "alphabetic", "titleY": 88, "titleAnchor": "middle"},
  "axisY": {"labelFont": "DejaVu Sans", "titleFont": "DejaVu Sans", "labelAngle": 270, "labelAlign": "center", "labelBaseline": "alphabetic", "labelPadding": 14.7, "titleAngle": 270, "titleX": -67, "titleY": 170.5, "titleBaseline": "alphabetic", "titleAlign": "center"},
  "legend": {"symbolType": "stroke", "symbolSize": 1369, "symbolStrokeWidth": 3, "clipHeight": 20, "rowPadding": 3, "labelOffset": 17, "labelFont": "Liberation Sans", "labelFontSize": 19, "labelColor": "#000000", "labelLimit": 400, "padding": 12, "strokeColor": "#000000", "fillColor": "#ffffff", "strokeWidth": 1.5, "cornerRadius": 0}
 }
}
